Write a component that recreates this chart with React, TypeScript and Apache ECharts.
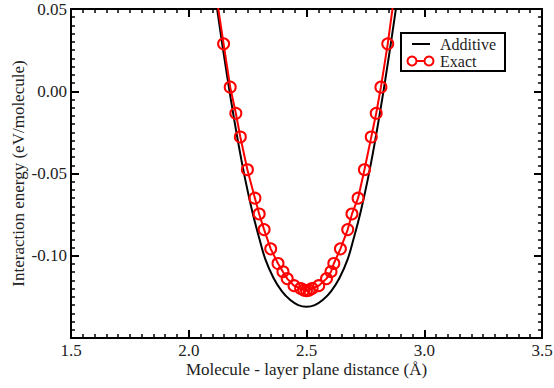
import React, { useEffect, useRef } from "react";
import * as echarts from "echarts";

// Additive (black smooth curve)
const additiveX = [2.10, 2.123, 2.17, 2.21, 2.24, 2.27, 2.30, 2.325, 2.36, 2.395, 2.43, 2.465, 2.50, 2.535, 2.57, 2.605, 2.64, 2.675, 2.70, 2.73, 2.76, 2.79, 2.83, 2.877, 2.90];
const additiveY = [0.072, 0.0475, 0.0028, -0.0312, -0.0537, -0.0732, -0.0897, -0.1020, -0.1135, -0.1215, -0.1268, -0.1300, -0.1310, -0.1300, -0.1268, -0.1215, -0.1135, -0.1020, -0.0897, -0.0732, -0.0537, -0.0312, 0.0028, 0.0475, 0.072];

// Exact (red line with open circles)
const exactX = [2.12, 2.148, 2.176, 2.200, 2.219, 2.249, 2.281, 2.299, 2.320, 2.348, 2.379, 2.400, 2.418, 2.447, 2.475, 2.489, 2.500, 2.511, 2.524, 2.552, 2.585, 2.604, 2.616, 2.644, 2.675, 2.693, 2.719, 2.746, 2.775, 2.796, 2.816, 2.845, 2.875];
const exactY = [0.0551, 0.0288, 0.0025, -0.0134, -0.0278, -0.0477, -0.0650, -0.0746, -0.0841, -0.0958, -0.1047, -0.1097, -0.1139, -0.1182, -0.1199, -0.1209, -0.1212, -0.1209, -0.1199, -0.1182, -0.1139, -0.1097, -0.1047, -0.0958, -0.0841, -0.0746, -0.0650, -0.0477, -0.0278, -0.0134, 0.0025, 0.0288, 0.0606];

const xTicks = { min: 1.5, max: 3.5, interval: 0.5 };
const yTicks = { min: -0.15, max: 0.05, interval: 0.05 };

const seriesNames = ["Additive", "Exact"];
const xTitle = "Molecule - layer plane distance (Å)";
const yTitle = "Interaction energy (eV/molecule)";

const FONT = "Liberation Serif";
const TXT = "#222";
const FS = 17;

const frameAxis = (extra: any) => ({
  type: "value",
  axisLine: { show: true, onZero: false, lineStyle: { color: "#000", width: 2 } },
  axisTick: { show: true, inside: true, length: 8, lineStyle: { color: "#000", width: 2 } },
  minorTick: { show: true, splitNumber: 10, length: 4, lineStyle: { color: "#000", width: 1.5 } },
  splitLine: { show: false },
  ...extra,
});

export default function App() {
  const ref = useRef<HTMLDivElement>(null);
  useEffect(() => {
    if (!ref.current) return;
    const chart = echarts.init(ref.current, undefined, { renderer: "svg" });
    const fmtX = (v: number) => v.toFixed(1);
    const fmtY = (v: number) => (Math.abs(v) < 1e-9 ? "0.00" : v.toFixed(2));
    const option: any = {
      animation: false,
      backgroundColor: "#fff",
      grid: { left: 71, right: 12, top: 9, bottom: 50, outerBoundsMode: "none" },
      xAxis: [
        frameAxis({
          position: "bottom",
          ...xTicks,
          axisLabel: { formatter: fmtX, color: TXT, fontFamily: FONT, fontSize: FS, margin: 4 },
          name: xTitle,
          nameLocation: "middle",
          nameGap: 23,
          nameMoveOverlap: false,
          nameTextStyle: { color: TXT, fontFamily: FONT, fontSize: FS },
        }),
        frameAxis({ position: "top", ...xTicks, axisLabel: { show: false } }),
      ],
      yAxis: [
        frameAxis({
          position: "left",
          ...yTicks,
          axisLabel: { formatter: fmtY, color: TXT, fontFamily: FONT, fontSize: FS, margin: 4, showMinLabel: false },
          name: yTitle,
          nameLocation: "middle",
          nameGap: 44,
          nameMoveOverlap: false,
          nameTextStyle: { color: TXT, fontFamily: FONT, fontSize: FS },
        }),
        frameAxis({ position: "right", ...yTicks, axisLabel: { show: false } }),
      ],
      series: [
        {
          name: seriesNames[0],
          type: "line",
          data: additiveX.map((x, i) => [x, additiveY[i]]),
          smooth: 0.4,
          showSymbol: false,
          clip: true,
          lineStyle: { color: "#000", width: 2 },
          z: 2,
        },
        {
          name: seriesNames[1],
          type: "line",
          data: exactX.map((x, i) => [x, exactY[i]]),
          symbol: "circle",
          symbolSize: 11,
          clip: true,
          itemStyle: { color: "rgba(0,0,0,0)", borderColor: "#ff0000", borderWidth: 2 },
          lineStyle: { color: "#ff0000", width: 2 },
          z: 3,
        },
      ],
      graphic: [
        {
          type: "rect",
          shape: { x: 401, y: 33, width: 104, height: 38 },
          style: { fill: "#fff", stroke: "#000", lineWidth: 2 },
          z: 10,
        },
        {
          type: "line",
          shape: { x1: 412, y1: 44, x2: 430, y2: 44 },
          style: { stroke: "#000", lineWidth: 2 },
          z: 11,
        },
        {
          type: "text",
          x: 440,
          y: 44,
          style: { text: seriesNames[0], fill: TXT, fontFamily: FONT, fontSize: 16, verticalAlign: "middle" },
          z: 11,
        },
        {
          type: "line",
          shape: { x1: 412, y1: 61, x2: 429, y2: 61 },
          style: { stroke: "#ff0000", lineWidth: 2 },
          z: 11,
        },
        {
          type: "circle",
          shape: { cx: 412, cy: 61, r: 4.5 },
          style: { fill: "#fff", stroke: "#ff0000", lineWidth: 2 },
          z: 12,
        },
        {
          type: "circle",
          shape: { cx: 429, cy: 61, r: 4.5 },
          style: { fill: "#fff", stroke: "#ff0000", lineWidth: 2 },
          z: 12,
        },
        {
          type: "text",
          x: 440,
          y: 61,
          style: { text: seriesNames[1], fill: TXT, fontFamily: FONT, fontSize: 16, verticalAlign: "middle" },
          z: 11,
        },
      ],
    };
    chart.setOption(option);
    return () => chart.dispose();
  }, []);
  return <div ref={ref} style={{ position: "fixed", left: 0, top: 0, width: 554, height: 388 }} />;
}
